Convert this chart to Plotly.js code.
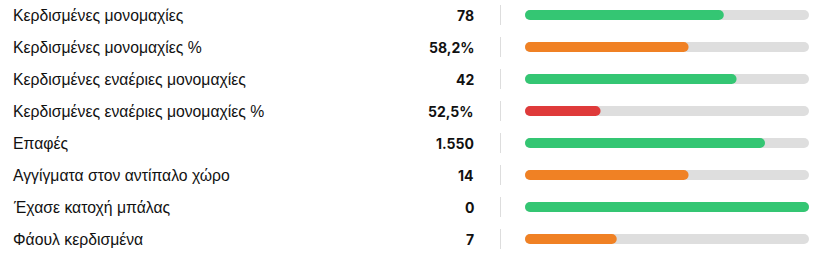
<!DOCTYPE html>
<html>
<head>
<meta charset="utf-8">
<script src="https://cdn.plot.ly/plotly-3.0.1.min.js"></script>
<style>
html,body{margin:0;padding:0;background:#fff;}
#chart{width:825px;height:262px;}
#chart .scatterlayer .js-line{stroke-linecap:round !important;}
</style>
</head>
<body>
<div id="chart"></div>
<script>
const labels = ["Κερδισμένες μονομαχίες","Κερδισμένες μονομαχίες %","Κερδισμένες εναέριες μονομαχίες","Κερδισμένες εναέριες μονομαχίες %","Επαφές","Αγγίγματα στον αντίπαλο χώρο","Έχασε κατοχή μπάλας","Φάουλ κερδισμένα"];
const valueText = ["78","58,2%","42","52,5%","1.550","14","0","7"];
const fillFraction = [0.70, 0.576, 0.745, 0.266, 0.845, 0.576, 1.0, 0.323];
const fillColors = ["#34c673","#f08124","#34c673","#df3a3a","#34c673","#f08124","#34c673","#f08124"];

const W = 825, L = 525, R = 16;
const plotW = W - L - R;
const px = p => (p - L) / plotW;
const rows = labels.map((_, i) => i);
const rr = 5 / plotW;       // round cap radius in data units (bar thickness 10px)

function pill(i, len, color) {
  return {type:'scatter', mode:'lines', x:[rr, len - rr], y:[i, i],
    line:{color: color, width: 10}, hoverinfo:'skip', cliponaxis:false};
}

const traces = [
  ...rows.map(i => pill(i, 1, '#dedede')),
  ...rows.map(i => pill(i, fillFraction[i], fillColors[i]))
];

const annotations = [];
const shapes = [];
labels.forEach((lab, i) => {
  annotations.push({xref:'paper', yref:'y', x: px(11), y: i, text: lab, showarrow:false,
    xanchor:'left', yanchor:'middle', font:{family:'Liberation Sans, Arial', size:15.75, color:'#111'}});
  annotations.push({xref:'paper', yref:'y', x: px(476), y: i, text: '<b>' + valueText[i] + '</b>', showarrow:false,
    xanchor:'right', yanchor:'middle', font:{family:'Inter, Liberation Sans', size:14, color:'#111'}});
  shapes.push({type:'line', xref:'paper', yref:'y', x0: px(500.5), x1: px(500.5), y0: i - 0.3125, y1: i + 0.3125,
    line:{color:'#dddddd', width:1}});
});

const layout = {
  width: 825, height: 262, margin:{l:L, r:R, t:0, b:6},
  paper_bgcolor:'#fff', plot_bgcolor:'#fff', showlegend:false,
  xaxis:{range:[0,1], visible:false, fixedrange:true},
  yaxis:{range:[7.531,-0.469], visible:false, fixedrange:true},
  annotations, shapes
};
Plotly.newPlot('chart', traces, layout, {displayModeBar:false, staticPlot:true});
</script>
</body>
</html>
